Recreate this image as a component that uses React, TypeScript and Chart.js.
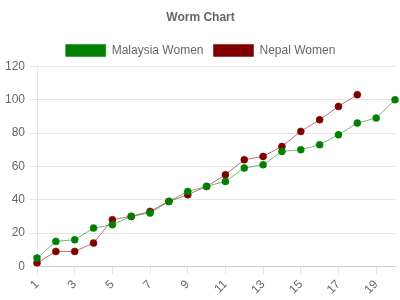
import React, { useEffect, useRef } from "react";
import { Chart, registerables } from "chart.js";

Chart.register(...registerables);

const labels = ["1","2","3","4","5","6","7","8","9","10","11","12","13","14","15","16","17","18","19","20"];
const malaysia = [5, 15, 16, 23, 25, 30, 32, 39, 45, 48, 51, 59, 61, 69, 70, 73, 79, 86, 89, 100];
const nepal = [2, 9, 9, 14, 28, 30, 33, 39, 43, 48, 55, 64, 66, 72, 81, 88, 96, 103];

export default function App() {
  const ref = useRef<HTMLCanvasElement | null>(null);
  useEffect(() => {
    if (!ref.current) return;
    Chart.defaults.font.family = "'Liberation Sans', Arial, sans-serif";
    Chart.defaults.font.size = 12;
    Chart.defaults.color = "#666";
    const chart = new Chart(ref.current, {
      type: "line",
      data: {
        labels,
        datasets: [
          {
            label: "Malaysia Women",
            data: malaysia,
            backgroundColor: "#008000",
            borderColor: "rgba(0,128,0,0.55)",
            borderWidth: 1,
            pointRadius: 3.5,
            pointBorderWidth: 1,
            pointBackgroundColor: "#008000",
            pointBorderColor: "rgba(0,128,0,0.55)",
            fill: false,
            tension: 0,
          },
          {
            label: "Nepal Women",
            data: nepal,
            backgroundColor: "#800000",
            borderColor: "rgba(128,0,0,0.55)",
            borderWidth: 1,
            pointRadius: 3.5,
            pointBorderWidth: 1,
            pointBackgroundColor: "#800000",
            pointBorderColor: "rgba(128,0,0,0.55)",
            fill: false,
            tension: 0,
          },
        ],
      },
      options: {
        animation: false,
        responsive: false,
        layout: { padding: { left: 1 } },
        plugins: {
          title: {
            display: true,
            text: "Worm Chart",
            font: { size: 12, weight: "bold" },
            color: "#666",
          },
          legend: {
            labels: { boxWidth: 40, color: "#666", font: { size: 12 } },
          },
          tooltip: { enabled: false },
        },
        scales: {
          x: {
            grid: { drawOnChartArea: false, color: "rgba(0,0,0,0.1)" },
            ticks: { minRotation: 45, maxRotation: 45, autoSkip: true, color: "#666" },
          },
          y: {
            min: 0,
            max: 120,
            ticks: { stepSize: 20, color: "#666", padding: 4 },
            grid: { color: "rgba(0,0,0,0.1)" },
          },
        },
      },
    });
    return () => chart.destroy();
  }, []);
  return (
    <div style={{ position: "fixed", left: 0, top: 0, width: 400, height: 300, background: "#fff" }}>
      <canvas ref={ref} width={400} height={300} />
    </div>
  );
}
